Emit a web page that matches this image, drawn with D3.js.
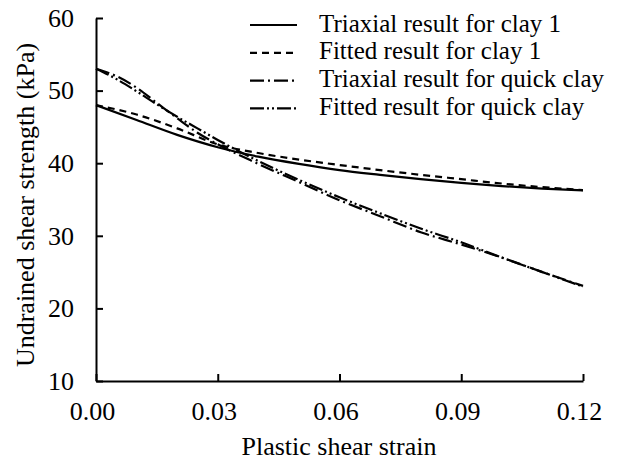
<!DOCTYPE html>
<html><head><meta charset="utf-8">
<script src="https://cdn.jsdelivr.net/npm/d3@7"></script>
</head><body style="margin:0">
<svg id="c" width="627" height="463"></svg>
<script>
const xTicks = [0, 0.03, 0.06, 0.09, 0.12];
const yTicks = [10, 20, 30, 40, 50, 60];
const strainClay1 = [0, 0.01, 0.02, 0.03, 0.04, 0.05, 0.06, 0.07, 0.08, 0.09, 0.10, 0.11, 0.12];
const triaxClay1  = [48, 45.95, 43.9, 42.2, 40.9, 39.9, 39.05, 38.4, 37.8, 37.3, 36.85, 36.5, 36.25];
const fitClay1    = [48, 46.7, 44.8, 42.6, 41.4, 40.5, 39.75, 39.05, 38.4, 37.8, 37.2, 36.7, 36.3];
const strainQuick = [0, 0.005, 0.01, 0.015, 0.02, 0.025, 0.03, 0.04, 0.05, 0.06, 0.07, 0.08, 0.09, 0.10, 0.11, 0.12];
const triaxQuick  = [53, 52.0, 50.4, 48.3, 46.2, 44.2, 42.6, 39.9, 37.4, 34.9, 32.7, 30.5, 28.8, 27.0, 25.0, 23.1];
const fitQuick    = [53, 51.6, 49.9, 48.1, 46.4, 44.8, 43.2, 40.3, 37.7, 35.3, 33.1, 31.0, 29.1, 27.0, 25.0, 23.0];
const seriesNames = ["Triaxial result for clay 1","Fitted result for clay 1","Triaxial result for quick clay","Fitted result for quick clay"];

const FONT = "'Liberation Serif', 'Times New Roman', Tinos, serif";
const svg = d3.select("#c");
const x = d3.scaleLinear().domain([0, 0.12]).range([96, 583]);
const y = d3.scaleLinear().domain([10, 60]).range([381, 18]);

function serif(sel, size) {
  sel.attr("font-family", "Liberation Serif").attr("font-size", size).attr("fill", "#000")
     .attr("style", "font-family:" + FONT + "; font-size:" + size + "px");
  return sel;
}

const series = [
  {name: seriesNames[0], xs: strainClay1, ys: triaxClay1, dash: null},
  {name: seriesNames[1], xs: strainClay1, ys: fitClay1, dash: "7,5"},
  {name: seriesNames[2], xs: strainQuick, ys: triaxQuick, dash: "14,4,2,4"},
  {name: seriesNames[3], xs: strainQuick, ys: fitQuick, dash: "14,3,2,3,2,3"}
];

const line = d3.line().x(d => x(d[0])).y(d => y(d[1])).curve(d3.curveMonotoneX);
series.forEach(s => {
  svg.append("path")
    .datum(s.xs.map((v, i) => [v, s.ys[i]]))
    .attr("d", line).attr("fill", "none").attr("stroke", "#000")
    .attr("stroke-width", 2.2).attr("stroke-dasharray", s.dash);
});

const xAxis = svg.append("g").attr("transform", "translate(0,381)")
  .call(d3.axisBottom(x).tickValues(xTicks).tickSizeInner(-7).tickSizeOuter(0).tickPadding(21).tickFormat(d3.format(".2f")));
const yAxis = svg.append("g").attr("transform", "translate(96,0)")
  .call(d3.axisLeft(y).tickValues(yTicks).tickSizeInner(-7).tickSizeOuter(0).tickPadding(22));
[xAxis, yAxis].forEach(g => {
  g.attr("font-family", "Liberation Serif").attr("font-size", 26);
  g.select(".domain").attr("stroke", "#000").attr("stroke-width", 2);
  g.selectAll(".tick line").attr("stroke", "#000").attr("stroke-width", 2);
  serif(g.selectAll(".tick text"), 26);
});
xAxis.selectAll(".tick text").attr("dx", -4);
yAxis.selectAll(".tick text").attr("dy", "0.32em");

serif(svg.append("text").attr("x", 339).attr("y", 455).attr("text-anchor", "middle"), 26).text("Plastic shear strain");
serif(svg.append("text").attr("transform", "translate(34,205) rotate(-90)").attr("text-anchor", "middle"), 26)
  .text("Undrained shear strength (kPa)");

const lg = svg.append("g");
series.forEach((s, i) => {
  const yy = 25 + i * 27.8;
  lg.append("line").attr("x1", 250).attr("x2", 297).attr("y1", yy).attr("y2", yy)
    .attr("stroke", "#000").attr("stroke-width", 2.2).attr("stroke-dasharray", s.dash);
  serif(lg.append("text").attr("x", 319).attr("y", yy + 6.5), 25).text(s.name);
});
</script></body></html>
